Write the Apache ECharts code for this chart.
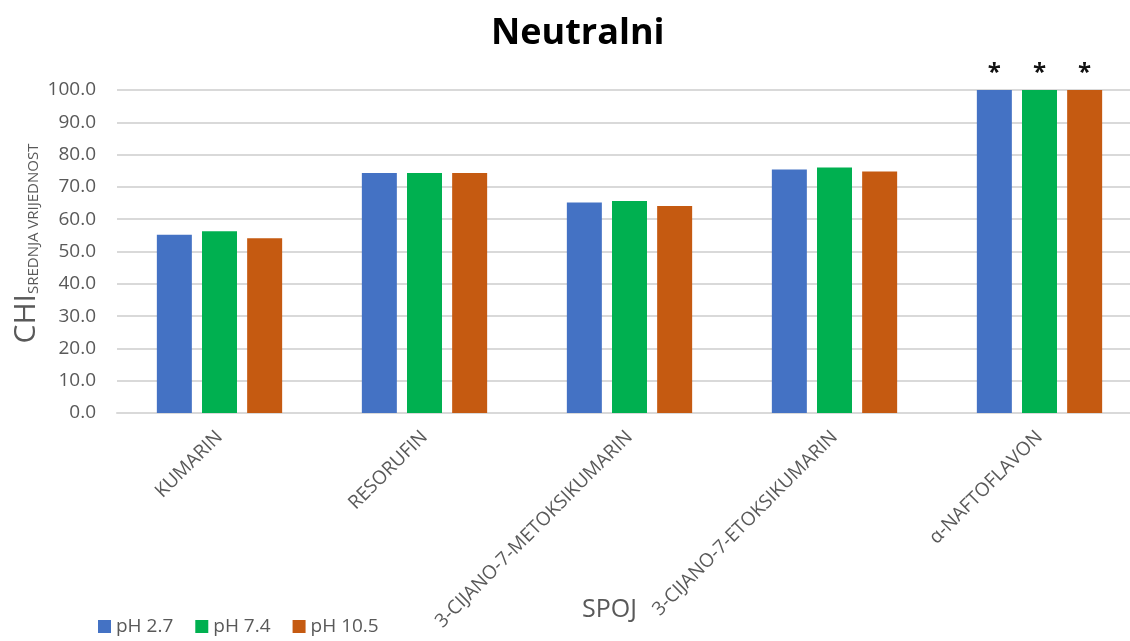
<!DOCTYPE html>
<html>
<head>
<meta charset="utf-8">
<title>Neutralni</title>
<script src="https://cdn.jsdelivr.net/npm/echarts@6/dist/echarts.min.js"></script>
<style>
  html, body { margin: 0; padding: 0; background: #fff; }
  #chart { width: 1130px; height: 641px; }
</style>
</head>
<body>
<div id="chart"></div>
<script>
// kategorije (spojevi)
const compounds = ["KUMARIN", "RESORUFIN", "3-CIJANO-7-METOKSIKUMARIN", "3-CIJANO-7-ETOKSIKUMARIN", "α-NAFTOFLAVON"];
// CHI srednja vrijednost po pH
const ph27 = [55.2, 74.3, 65.2, 75.4, 100.0];
const ph74 = [56.3, 74.3, 65.6, 76.0, 100.0];
const ph105 = [54.1, 74.3, 64.1, 74.8, 100.0];
// oznake iznad stupaca
const marks = ["", "", "", "", "*"];
const yTicks = [0, 100, 10]; // min, max, interval

const FONT = "'Open Sans', sans-serif";
const GREY = "#595959";

const chart = echarts.init(document.getElementById("chart"));

function barSeries(name, data, color) {
  return {
    name: name, type: "bar", data: data,
    barWidth: 35, barGap: "29%",
    itemStyle: { color: color },
    label: {
      show: true, position: "top", distance: 5,
      formatter: p => marks[p.dataIndex],
      fontSize: 24, fontWeight: "bold", color: "#111", fontFamily: FONT
    }
  };
}

const option = {
  animation: false,
  title: {
    text: "Neutralni", left: 486, top: 11,
    textStyle: { fontSize: 36, fontWeight: "bold", color: "#000", fontFamily: FONT }
  },
  legend: {
    left: 93, top: 612, itemWidth: 13, itemHeight: 13, itemGap: 22,
    icon: "rect",
    textStyle: { fontSize: 19, color: GREY, fontFamily: FONT }
  },
  // plot runs past the right edge, as in the original
  grid: { left: 117, width: 1025, top: 90, bottom: 228, containLabel: false, outerBoundsMode: "none" },
  xAxis: {
    type: "category", data: compounds,
    name: "SPOJ", nameLocation: "middle", nameGap: 184, nameMoveOverlap: false,
    nameTextStyle: { fontSize: 25, color: GREY, fontFamily: FONT, padding: [0, 40, 0, 0] },
    axisLine: { lineStyle: { color: "#d9d9d9", width: 2 } },
    axisTick: { show: false },
    axisLabel: { rotate: 45, fontSize: 19, color: GREY, fontFamily: FONT, margin: 21, interval: 0 }
  },
  yAxis: {
    type: "value", min: yTicks[0], max: yTicks[1], interval: yTicks[2],
    name: "{a|CHI}{b|SREDNJA VRIJEDNOST}",
    nameLocation: "middle", nameGap: 76, nameRotate: 90, nameMoveOverlap: false,
    nameTextStyle: {
      color: GREY, fontFamily: FONT, padding: [0, 0, 0, 16],
      rich: {
        a: { fontSize: 30, color: GREY, fontFamily: FONT, verticalAlign: "bottom", lineHeight: 38 },
        b: { fontSize: 15, color: GREY, fontFamily: FONT, verticalAlign: "bottom", lineHeight: 26, padding: [8, 0, 0, 0] }
      }
    },
    axisLine: { show: false },
    axisTick: { show: false },
    axisLabel: { fontSize: 19, color: GREY, fontFamily: FONT, margin: 21, formatter: v => v.toFixed(1) },
    splitLine: { lineStyle: { color: "#d9d9d9", width: 2 } }
  },
  series: [
    barSeries("pH 2.7", ph27, "#4472C4"),
    barSeries("pH 7.4", ph74, "#00B050"),
    barSeries("pH 10.5", ph105, "#C55A11")
  ]
};
chart.setOption(option);
</script>
</body>
</html>
